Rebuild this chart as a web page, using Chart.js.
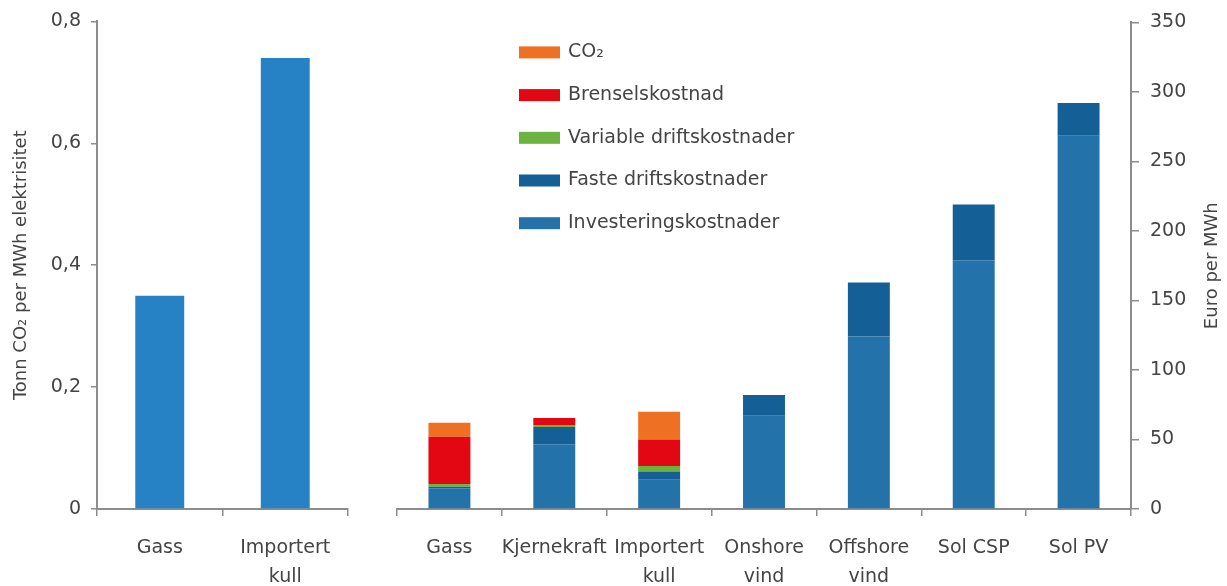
<!DOCTYPE html>
<html lang="no">
<head>
<meta charset="utf-8">
<script src="https://cdn.jsdelivr.net/npm/chart.js@4/dist/chart.umd.min.js"></script>
<style>
  html, body { margin: 0; padding: 0; background: #fff; }
  #wrap { position: relative; width: 1227px; height: 586px; overflow: hidden; }
  #co2Chart { position: absolute; left: 0; top: 0; }
  #costChart { position: absolute; left: 370px; top: 0; }
</style>
</head>
<body>
<div id="wrap">
  <canvas id="co2Chart" width="380" height="586"></canvas>
  <canvas id="costChart" width="857" height="586"></canvas>
</div>
<script>
// Utslipp per MWh (venstre panel)
const emissionCategories = ['Gass', ['Importert', 'kull']];
const emissionValues = [0.35, 0.74];
const emissionTicks = ['0', '0,2', '0,4', '0,6', '0,8'];

// Kostnader per MWh (høyre panel), stablet nedenfra og opp
const costCategories = ['Gass', 'Kjernekraft', ['Importert', 'kull'], ['Onshore', 'vind'], ['Offshore', 'vind'], 'Sol CSP', 'Sol PV'];
const investering   = [15, 46.5, 21, 67, 124, 179, 268.5];
const fasteDrift    = [1, 12.5, 6, 15, 39, 40, 23.5];
const variableDrift = [2, 1.5, 4, 0, 0, 0, 0];
const brensel       = [34, 5, 19, 0, 0, 0, 0];
const co2Kostnad    = [10, 0, 20, 0, 0, 0, 0];
const costTicks = ['0', '50', '100', '150', '200', '250', '300', '350'];

const textGrey = '#444444';
const axisGrey = '#8c8c8c';
Chart.defaults.font.family = "'DejaVu Sans', sans-serif";
Chart.defaults.color = textGrey;

const xAxis = (height) => ({
  grid: { display: true, drawOnChartArea: false, drawTicks: true, tickLength: 7, color: axisGrey, lineWidth: 1.5, offset: true },
  border: { color: axisGrey, width: 2 },
  ticks: { font: { size: 19, lineHeight: 1.5 }, color: textGrey, padding: 18, maxRotation: 0, minRotation: 0, autoSkip: false },
  afterFit(s) { s.height = height; }
});

// Venstre panel: tonn CO2 per MWh
new Chart(document.getElementById('co2Chart'), {
  type: 'bar',
  data: {
    labels: emissionCategories,
    datasets: [{
      label: 'Tonn CO₂ per MWh elektrisitet',
      data: emissionValues,
      backgroundColor: '#2682c5',
      barPercentage: 0.39,
      categoryPercentage: 1
    }]
  },
  options: {
    responsive: false,
    animation: false,
    layout: { padding: { top: 18, right: 32, left: 0, bottom: 0 } },
    plugins: { legend: { display: false }, tooltip: { enabled: false } },
    scales: {
      x: xAxis(77),
      y: {
        min: 0, max: 0.8,
        ticks: { stepSize: 0.2, callback: (v, i) => emissionTicks[i], font: { size: 19 }, color: textGrey, padding: 10 },
        grid: { drawOnChartArea: false, tickLength: 6, color: axisGrey, lineWidth: 1.5 },
        border: { color: axisGrey, width: 2 },
        title: { display: true, text: 'Tonn CO₂ per MWh elektrisitet', font: { size: 18 }, color: textGrey, padding: { top: 11, bottom: 0 } },
        afterFit(s) { s.width = 97; }
      }
    }
  }
});

// Forklaring inne i plottområdet, øverste serie først
const stackLegend = {
  id: 'stackLegend',
  afterDraw(chart, args, opts) {
    const { ctx, chartArea } = chart;
    const items = chart.data.datasets.map(d => ({ label: d.label, color: d.backgroundColor })).reverse();
    ctx.save();
    ctx.font = opts.fontSize + "px 'DejaVu Sans', sans-serif";
    ctx.textBaseline = 'middle';
    ctx.textAlign = 'left';
    items.forEach((it, i) => {
      const cy = chartArea.top + opts.offsetY + i * opts.rowGap;
      const x = chartArea.left + opts.offsetX;
      ctx.fillStyle = it.color;
      ctx.fillRect(x, cy - opts.boxH / 2, opts.boxW, opts.boxH);
      ctx.fillStyle = opts.color;
      ctx.fillText(it.label, x + opts.boxW + opts.gap, cy);
    });
    ctx.restore();
  }
};

// Aksetittel for høyre akse, lest nedenfra og opp
const sideTitle = {
  id: 'sideTitle',
  afterDraw(chart, args, opts) {
    const { ctx, chartArea } = chart;
    ctx.save();
    ctx.font = opts.fontSize + "px 'DejaVu Sans', sans-serif";
    ctx.fillStyle = opts.color;
    ctx.textAlign = 'center';
    ctx.textBaseline = 'middle';
    ctx.translate(chart.width - opts.inset, (chartArea.top + chartArea.bottom) / 2);
    ctx.rotate(-Math.PI / 2);
    ctx.fillText(opts.text, 0, 0);
    ctx.restore();
  }
};

const stackDataset = (label, data, color) => ({
  label, data, backgroundColor: color, barPercentage: 0.40, categoryPercentage: 1
});

// Høyre panel: euro per MWh
new Chart(document.getElementById('costChart'), {
  type: 'bar',
  data: {
    labels: costCategories,
    datasets: [
      stackDataset('Investeringskostnader', investering, '#2373aa'),
      stackDataset('Faste driftskostnader', fasteDrift, '#135f96'),
      stackDataset('Variable driftskostnader', variableDrift, '#6cb33f'),
      stackDataset('Brenselskostnad', brensel, '#e30613'),
      stackDataset('CO₂', co2Kostnad, '#ee7023')
    ]
  },
  options: {
    responsive: false,
    animation: false,
    layout: { padding: { top: 18, right: 0, left: 27, bottom: 0 } },
    plugins: {
      legend: { display: false },
      tooltip: { enabled: false },
      stackLegend: { offsetX: 122, offsetY: 30, rowGap: 42.7, boxW: 41, boxH: 12, gap: 8, fontSize: 19, color: textGrey },
      sideTitle: { text: 'Euro per MWh', fontSize: 18, color: textGrey, inset: 15 }
    },
    scales: {
      x: Object.assign(xAxis(77), { stacked: true }),
      y: {
        position: 'right',
        stacked: true,
        min: 0, max: 350,
        ticks: { stepSize: 50, callback: (v, i) => costTicks[i], font: { size: 19 }, color: textGrey, padding: 11 },
        grid: { drawOnChartArea: false, tickLength: 8, color: axisGrey, lineWidth: 1.5 },
        border: { color: axisGrey, width: 2 },
        afterFit(s) { s.width = 96; }
      }
    }
  },
  plugins: [stackLegend, sideTitle]
});
</script>
</body>
</html>
